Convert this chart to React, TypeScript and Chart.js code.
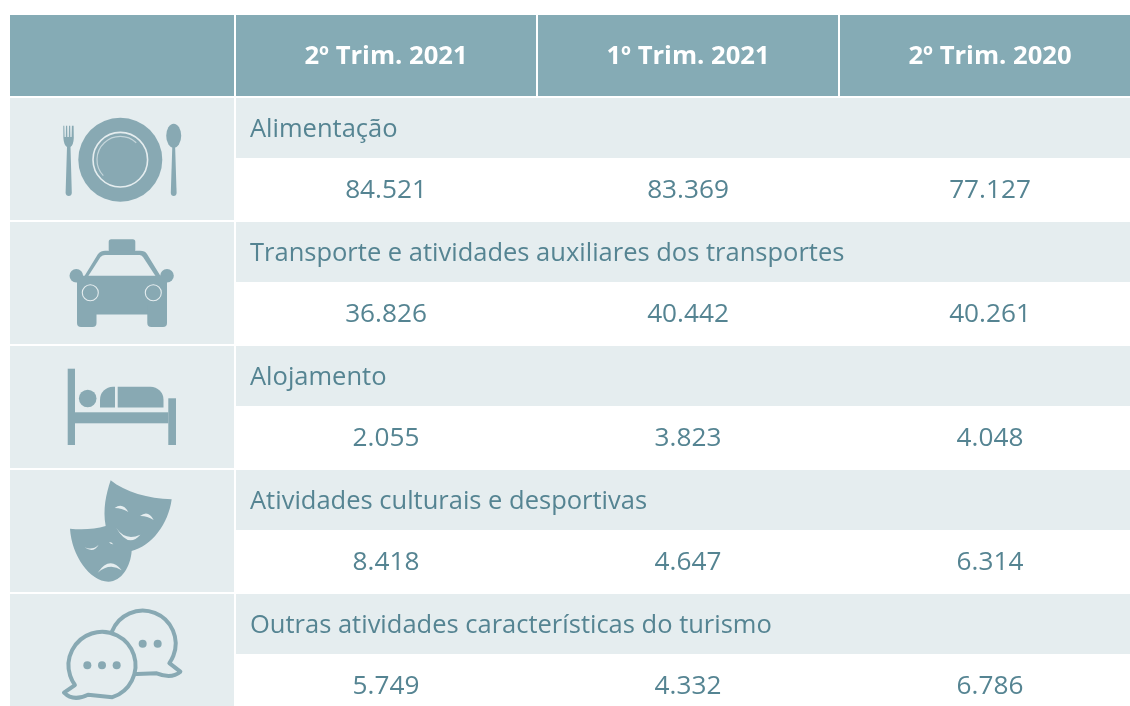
import React, { useEffect, useRef } from "react";
import { Chart, registerables } from "chart.js";

Chart.register(...registerables);

// ---- data ----
const periods = ["2º Trim. 2021", "1º Trim. 2021", "2º Trim. 2020"];
const categories = [
  "Alimentação",
  "Transporte e atividades auxiliares dos transportes",
  "Alojamento",
  "Atividades culturais e desportivas",
  "Outras atividades características do turismo",
];
const q2_2021 = [84521, 36826, 2055, 8418, 5749];
const q1_2021 = [83369, 40442, 3823, 4647, 4332];
const q2_2020 = [77127, 40261, 4048, 6314, 6786];
const icons = ["plate", "taxi", "bed", "masks", "chat"];

// ---- layout (pixel-valued scales) ----
const W = 1130;
const H = 706;
const columnEdges = [
  [10, 234],
  [236, 536],
  [538, 838],
  [840, 1130],
];
const headerTop = 15;
const headerBottom = 96;
const firstRowTop = 98;
const rowPitch = 124;
const bandHeight = 60;
const rowHeight = 122;

const HEADER = "#85abb5";
const BAND = "#e5edef";
const TEXT = "#558492";
const ICON = "#88a9b3";
const FONT = "'Open Sans', sans-serif";

const fmt = (n: number) => String(n).replace(/\B(?=(\d{3})+$)/g, ".");
const centre = (c: number) => (columnEdges[c][0] + columnEdges[c][1]) / 2;
const rowTop = (r: number) => firstRowTop + r * rowPitch;

function circle(ctx: CanvasRenderingContext2D, x: number, y: number, r: number) {
  ctx.beginPath();
  ctx.arc(x, y, r, 0, Math.PI * 2);
  ctx.fill();
}

function drawPlate(ctx: CanvasRenderingContext2D) {
  ctx.fillStyle = ICON;
  circle(ctx, 120.3, 159.7, 42);
  ctx.strokeStyle = BAND;
  ctx.lineWidth = 1.6;
  ctx.beginPath();
  ctx.arc(120.3, 159.7, 27.3, 0, Math.PI * 2);
  ctx.stroke();
  ctx.lineWidth = 1.2;
  ctx.strokeStyle = "#c5d6db";
  ctx.beginPath();
  ctx.arc(120.3, 159.7, 23.3, Math.PI * 0.76, Math.PI * 1.74);
  ctx.stroke();
  // fork
  ctx.fillStyle = ICON;
  ctx.beginPath();
  ctx.moveTo(63.3, 125.7);
  ctx.lineTo(64.3, 125.7);
  ctx.lineTo(64.6, 137);
  ctx.lineTo(65.8, 137);
  ctx.lineTo(66, 125.7);
  ctx.lineTo(67.2, 125.7);
  ctx.lineTo(67.4, 137);
  ctx.lineTo(68.8, 137);
  ctx.lineTo(69, 125.7);
  ctx.lineTo(70.2, 125.7);
  ctx.lineTo(70.4, 137);
  ctx.lineTo(71.6, 137);
  ctx.lineTo(71.9, 125.7);
  ctx.lineTo(73.6, 125.7);
  ctx.lineTo(73.8, 138);
  ctx.quadraticCurveTo(73.5, 145, 70.5, 147);
  ctx.lineTo(71.8, 193);
  ctx.quadraticCurveTo(71.5, 196, 68.8, 196);
  ctx.quadraticCurveTo(66, 196, 65.6, 193);
  ctx.lineTo(67, 147);
  ctx.quadraticCurveTo(63.8, 145, 63.4, 138);
  ctx.closePath();
  ctx.fill();
  // spoon
  ctx.beginPath();
  ctx.ellipse(173.7, 135.8, 7.5, 12, 0, 0, Math.PI * 2);
  ctx.fill();
  ctx.beginPath();
  ctx.moveTo(172.3, 146);
  ctx.lineTo(175.1, 146);
  ctx.lineTo(176.6, 193);
  ctx.quadraticCurveTo(176.3, 196, 173.7, 196);
  ctx.quadraticCurveTo(171.1, 196, 170.8, 193);
  ctx.closePath();
  ctx.fill();
}

function drawTaxi(ctx: CanvasRenderingContext2D) {
  ctx.fillStyle = ICON;
  // sign
  ctx.beginPath();
  ctx.roundRect(108.7, 239.3, 26.6, 13, 2.5);
  ctx.fill();
  // cabin
  ctx.beginPath();
  ctx.moveTo(84.5, 276);
  ctx.lineTo(98, 254);
  ctx.quadraticCurveTo(101, 250.7, 105, 250.7);
  ctx.lineTo(140, 250.7);
  ctx.quadraticCurveTo(145, 250.7, 147, 254);
  ctx.lineTo(160.5, 276);
  ctx.closePath();
  ctx.fill();
  ctx.fillStyle = BAND;
  ctx.beginPath();
  ctx.moveTo(88.3, 276);
  ctx.lineTo(100.5, 257);
  ctx.quadraticCurveTo(102.5, 255, 105, 255);
  ctx.lineTo(139.5, 255);
  ctx.quadraticCurveTo(141.5, 255, 143, 257);
  ctx.lineTo(155.5, 276);
  ctx.closePath();
  ctx.fill();
  ctx.fillStyle = ICON;
  // mirrors
  circle(ctx, 76.3, 275.7, 6.8);
  circle(ctx, 167, 275.7, 6.8);
  // body + wheels
  ctx.beginPath();
  ctx.roundRect(77, 275.7, 90, 38.7, 0);
  ctx.fill();
  ctx.beginPath();
  ctx.roundRect(77, 305, 19.5, 22, [0, 0, 4, 4]);
  ctx.fill();
  ctx.beginPath();
  ctx.roundRect(147.3, 305, 19.7, 22, [0, 0, 4, 4]);
  ctx.fill();
  // headlights
  ctx.strokeStyle = BAND;
  ctx.lineWidth = 1.1;
  ctx.beginPath();
  ctx.arc(90.3, 292.7, 8, 0, Math.PI * 2);
  ctx.stroke();
  ctx.beginPath();
  ctx.arc(153.3, 292.7, 8, 0, Math.PI * 2);
  ctx.stroke();
}

function drawBed(ctx: CanvasRenderingContext2D) {
  ctx.fillStyle = ICON;
  ctx.fillRect(67.7, 368.7, 7.3, 76.3);
  ctx.fillRect(75, 412.3, 93.3, 11);
  ctx.fillRect(168.3, 398.3, 7.7, 46.7);
  circle(ctx, 87.7, 398.5, 8.8);
  ctx.beginPath();
  ctx.roundRect(100, 386.7, 15, 20.7, [13, 0, 0, 0]);
  ctx.fill();
  ctx.beginPath();
  ctx.roundRect(117.7, 386.7, 45.8, 20.7, [0, 13, 0, 0]);
  ctx.fill();
}

function drawMasks(ctx: CanvasRenderingContext2D) {
  const ox = 0;
  const oy = 466;
  const X = (v: number) => ox + v / 3;
  const Y = (v: number) => oy + v / 3;
  ctx.fillStyle = ICON;
  ctx.beginPath();
  ctx.moveTo(X(332), Y(43));
  ctx.bezierCurveTo(X(375), Y(78), X(445), Y(98), X(515), Y(100));
  ctx.bezierCurveTo(X(505), Y(175), X(455), Y(240), X(395), Y(255));
  ctx.bezierCurveTo(X(392), Y(300), X(365), Y(347), X(325), Y(347));
  ctx.bezierCurveTo(X(270), Y(345), X(215), Y(270), X(210), Y(188));
  ctx.bezierCurveTo(X(245), Y(192), X(285), Y(190), X(317), Y(180));
  ctx.bezierCurveTo(X(308), Y(130), X(318), Y(85), X(332), Y(43));
  ctx.closePath();
  ctx.fill();
  ctx.fillStyle = BAND;
  const crescent = (
    a: [number, number],
    c1: [number, number],
    b: [number, number],
    c2: [number, number],
  ) => {
    ctx.beginPath();
    ctx.moveTo(X(a[0]), Y(a[1]));
    ctx.quadraticCurveTo(X(c1[0]), Y(c1[1]), X(b[0]), Y(b[1]));
    ctx.quadraticCurveTo(X(c2[0]), Y(c2[1]), X(a[0]), Y(a[1]));
    ctx.fill();
  };
  crescent([344, 126], [368, 108], [385, 138], [365, 126]);
  crescent([420, 150], [445, 130], [461, 162], [440, 149]);
  crescent([349, 186], [376, 226], [421, 206], [385, 248]);
  crescent([254, 244], [277, 254], [296, 236], [280, 264]);
  crescent([327, 228], [335, 228], [340, 235], [332, 236]);
  crescent([293, 320], [330, 268], [365, 313], [330, 288]);
}

function drawChat(ctx: CanvasRenderingContext2D) {
  const oy = 466;
  const X = (v: number) => v / 3;
  const Y = (v: number) => oy + v / 3;
  ctx.strokeStyle = ICON;
  ctx.fillStyle = BAND;
  ctx.lineWidth = 4;
  ctx.lineJoin = "round";
  // back bubble with tail
  ctx.beginPath();
  ctx.arc(X(428), Y(533), 33, Math.PI * 0.62, Math.PI * 0.2, false);
  ctx.lineTo(X(541), Y(617));
  ctx.quadraticCurveTo(X(515), Y(640), X(470), Y(622));
  ctx.closePath();
  ctx.fill();
  ctx.stroke();
  // front bubble with tail
  ctx.beginPath();
  ctx.arc(X(306), Y(598), 33.5, Math.PI * 0.4, Math.PI * 0.8, true);
  ctx.lineTo(X(192), Y(680));
  ctx.quadraticCurveTo(X(220), Y(708), X(264), Y(686));
  ctx.closePath();
  ctx.fill();
  ctx.stroke();
  ctx.fillStyle = ICON;
  [262, 306, 350].forEach((x) => circle(ctx, X(x), Y(598), 4));
  [428, 473].forEach((x) => circle(ctx, X(x), Y(533), 4));
}

const iconPainters: Record<string, (c: CanvasRenderingContext2D) => void> = {
  plate: drawPlate,
  taxi: drawTaxi,
  bed: drawBed,
  masks: drawMasks,
  chat: drawChat,
};

const tablePlugin = {
  id: "tablePlugin",
  beforeDatasetsDraw(chart: any) {
    const { ctx } = chart;
    const sx = chart.scales.x;
    const sy = chart.scales.y;
    const rect = (x0: number, y0: number, x1: number, y1: number, col: string) => {
      const a = sx.getPixelForValue(x0);
      const b = sx.getPixelForValue(x1);
      const c = sy.getPixelForValue(y0);
      const d = sy.getPixelForValue(y1);
      ctx.fillStyle = col;
      ctx.fillRect(a, c, b - a, d - c);
    };
    ctx.save();
    columnEdges.forEach(([l, r]) => rect(l, headerTop, r, headerBottom, HEADER));
    categories.forEach((_, i) => {
      const t = rowTop(i);
      rect(columnEdges[0][0], t, columnEdges[0][1], Math.min(t + rowHeight, H), BAND);
      rect(columnEdges[1][0], t, W, t + bandHeight, BAND);
      iconPainters[icons[i]](ctx);
    });
    ctx.restore();
  },
  afterDatasetsDraw(chart: any) {
    const { ctx } = chart;
    const sx = chart.scales.x;
    const sy = chart.scales.y;
    ctx.save();
    ctx.textBaseline = "middle";
    // header
    ctx.textAlign = "center";
    ctx.fillStyle = "#ffffff";
    ctx.font = `bold 25.6px ${FONT}`;
    periods.forEach((p, i) => {
      ctx.fillText(p, sx.getPixelForValue(centre(i + 1)) + (i === 2 ? 5 : 0), sy.getPixelForValue(57));
    });
    // category labels
    ctx.textAlign = "left";
    ctx.fillStyle = TEXT;
    ctx.font = `25.5px ${FONT}`;
    categories.forEach((c, i) => {
      ctx.fillText(c, sx.getPixelForValue(250), sy.getPixelForValue(rowTop(i) + 32));
    });
    // values come from the chart's own point elements
    ctx.textAlign = "center";
    ctx.font = `26.2px ${FONT}`;
    chart.data.datasets.forEach((ds: any, d: number) => {
      chart.getDatasetMeta(d).data.forEach((pt: any, i: number) => {
        ctx.fillText(fmt(ds.values[i]), pt.x, pt.y);
      });
    });
    ctx.restore();
  },
};

export default function App() {
  const ref = useRef<HTMLCanvasElement>(null);
  useEffect(() => {
    const series = [q2_2021, q1_2021, q2_2020];
    const chart = new Chart(ref.current!, {
      type: "scatter",
      data: {
        datasets: series.map((values, s) => ({
          label: periods[s],
          values,
          data: values.map((_, r) => ({
            x: centre(s + 1) + (s === 2 ? 5 : 0),
            y: rowTop(r) + 93,
          })),
          pointRadius: 0,
        })) as any,
      },
      options: {
        animation: false,
        responsive: false,
        layout: { padding: 0 },
        plugins: { legend: { display: false }, tooltip: { enabled: false } },
        scales: {
          x: { type: "linear", min: 0, max: W, display: false },
          y: { type: "linear", min: 0, max: H, reverse: true, display: false },
        },
      },
      plugins: [tablePlugin],
    });
    return () => chart.destroy();
  }, []);
  return (
    <canvas
      ref={ref}
      width={W}
      height={H}
      style={{ position: "fixed", left: 0, top: 0, width: W, height: H, display: "block" }}
    />
  );
}
